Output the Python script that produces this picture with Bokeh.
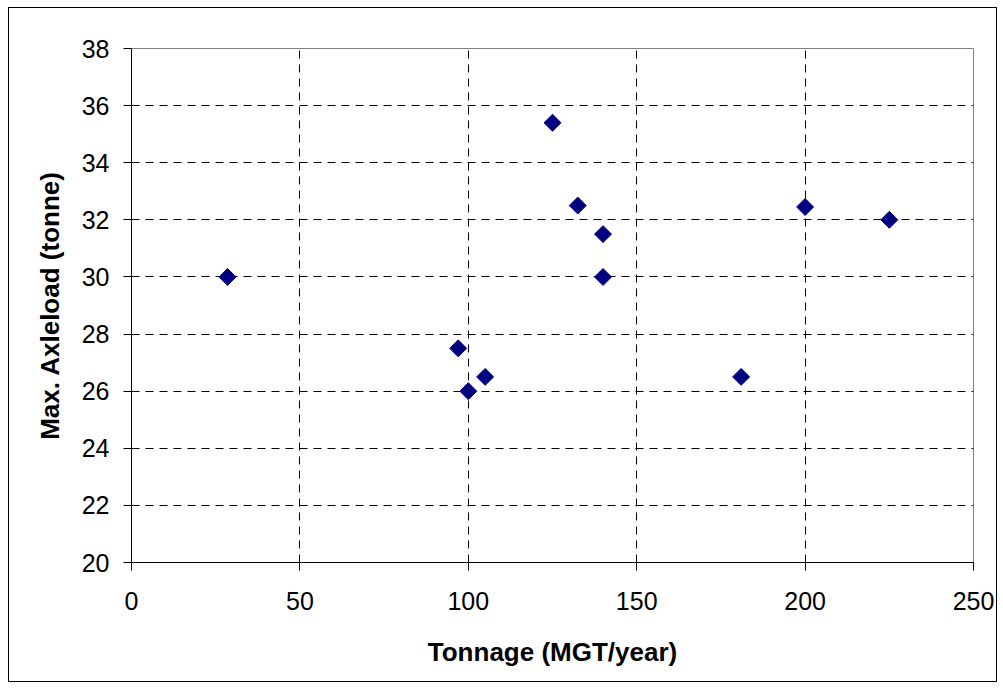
from bokeh.plotting import figure
from bokeh.layouts import column
from bokeh.models import Range1d, SingleIntervalTicker
from bokeh.embed import file_html
from bokeh.resources import INLINE
import math

# Data
tonnage = [28.5, 97, 100, 105, 125, 132.5, 140, 140, 181, 200, 225]
axleload = [30, 27.5, 26, 26.5, 35.4, 32.5, 31.5, 30, 26.5, 32.45, 32]

x_label = "Tonnage (MGT/year)"
y_label = "Max. Axleload (tonne)"

FONT = "Liberation Sans"

p = figure(width=987, height=673, output_backend="svg", toolbar_location=None,
           x_range=Range1d(0, 250), y_range=Range1d(20, 38),
           min_border_left=122, min_border_right=23, min_border_top=40, min_border_bottom=119)

p.background_fill_color = "white"
p.border_fill_color = "white"
p.outline_line_color = "#808080"
p.outline_line_width = 1

p.scatter(tonnage, axleload, marker="square", size=12, angle=math.pi / 4,
          fill_color="#000080", line_color="#000080")

for ax, interval in ((p.xaxis[0], 50), (p.yaxis[0], 2)):
    ax.ticker = SingleIntervalTicker(interval=interval, num_minor_ticks=0)
    ax.axis_line_color = "black"
    ax.axis_line_width = 1
    ax.major_tick_line_color = "black"
    ax.major_tick_in = 0
    ax.major_tick_out = 8
    ax.minor_tick_line_color = None
    ax.major_label_text_font = FONT
    ax.major_label_text_font_size = "25px"
    ax.major_label_text_color = "black"
    ax.axis_label_text_font = FONT
    ax.axis_label_text_font_size = "26px"
    ax.axis_label_text_font_style = "bold"
    ax.axis_label_text_color = "black"

p.xaxis.axis_label = x_label
p.yaxis.axis_label = y_label
p.xaxis.major_label_standoff = 21
p.xaxis.axis_label_standoff = 24
p.yaxis.major_label_standoff = 14
p.yaxis.axis_label_standoff = 14

for g in (p.xgrid[0], p.ygrid[0]):
    g.grid_line_color = "black"
    g.grid_line_width = 1
    g.grid_line_dash = "8 6"

layout = column(p, margin=(7, 7, 8, 8),
                styles={"border": "1px solid black", "background-color": "white"})

open("out.html", "w").write(file_html(layout, INLINE))
